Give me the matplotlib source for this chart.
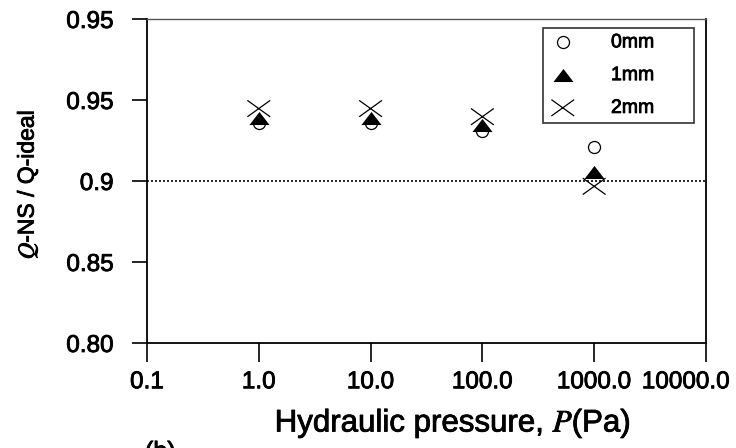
import numpy as np
import matplotlib
matplotlib.use('Agg')
import matplotlib.pyplot as plt
import matplotlib.patheffects as pe
from matplotlib.path import Path
from matplotlib.transforms import ScaledTranslation

plt.rcParams['font.family'] = ['Liberation Sans', 'DejaVu Sans']
plt.rcParams['mathtext.fontset'] = 'stix'

# data
pressure = [1.0, 10.0, 100.0, 1000.0]
q_0mm = [0.936, 0.936, 0.931, 0.921]
q_1mm = [0.939, 0.939, 0.935, 0.906]
q_2mm = [0.945, 0.945, 0.940, 0.897]

x_ticks = [0.1, 1.0, 10.0, 100.0, 1000.0, 10000.0]
x_labels = ['0.1', '1.0', '10.0', '100.0', '1000.0', '10000.0']
y_ticks = [0.80, 0.85, 0.90, 0.95, 1.00]
y_labels = ['0.80', '0.85', '0.9', '0.95', '0.95']

# flat triangle and flat cross like the original
tri = Path([(-1, -0.65), (1, -0.65), (0, 0.65), (-1, -0.65)],
           [Path.MOVETO, Path.LINETO, Path.LINETO, Path.CLOSEPOLY])
cross = Path([(-1, -0.72), (1, 0.72), (-1, 0.72), (1, -0.72)],
             [Path.MOVETO, Path.LINETO, Path.MOVETO, Path.LINETO])

thick = [pe.withStroke(linewidth=0.6, foreground='black')]

fig = plt.figure(figsize=(7.36, 4.48), dpi=100)
ax = fig.add_axes([0.1997, 0.2333, 0.7595, 0.7232])

ax.scatter(pressure, q_0mm, marker='o', s=75, facecolors='white',
           edgecolors='black', linewidths=0.9, label='0mm', zorder=3)
ax.scatter(pressure, q_1mm, marker=tri, s=210, color='black',
           linewidths=0, label='1mm', zorder=4)
ax.scatter(pressure, q_2mm, marker=cross, s=270, facecolors='none',
           edgecolors='black', linewidths=0.9, label='2mm', zorder=5)

# reference line
ax.axhline(0.9, color='black', linestyle=(0, (1.2, 1.2)), linewidth=1.2, zorder=1)

ax.set_xscale('log')
ax.set_xlim(0.1, 10000.0)
ax.set_ylim(0.80, 1.00)
ax.set_xticks(x_ticks)
ax.set_xticklabels(x_labels)
ax.xaxis.set_minor_locator(matplotlib.ticker.NullLocator())
ax.set_yticks(y_ticks)
ax.set_yticklabels(y_labels)

ax.tick_params(axis='x', direction='out', length=14, width=1.2, labelsize=17.5, pad=6)
ax.tick_params(axis='y', direction='out', length=11, width=1.2, labelsize=17.5, pad=13)
for lbl in ax.get_xticklabels() + ax.get_yticklabels():
    lbl.set_path_effects(thick)
# last label is pushed left so it fits
last = ax.get_xticklabels()[-1]
last.set_transform(last.get_transform() + ScaledTranslation(-0.2, 0, fig.dpi_scale_trans))

for side in ['left', 'bottom', 'right']:
    ax.spines[side].set_linewidth(1.3)
ax.spines['top'].set_linewidth(1.0)
ax.spines['top'].set_color('#555555')

ax.set_xlabel('Hydraulic pressure, $P$(Pa)', fontsize=22.5, path_effects=thick)
ax.xaxis.set_label_coords(0.547, -0.195)
ax.set_ylabel('$Q$-NS / Q-ideal', fontsize=16.5, path_effects=thick)
ax.yaxis.set_label_coords(-0.19, 0.49)

leg = ax.legend(loc='upper left', bbox_to_anchor=(0.708, 0.5, 0.270, 0.474),
                mode='expand', fontsize=14,
                frameon=True, fancybox=False, edgecolor='black',
                borderpad=0.3, labelspacing=0.78, handletextpad=1.75,
                handlelength=1.46, borderaxespad=0.0)
leg.get_frame().set_linewidth(1.2)
for t in leg.get_texts():
    t.set_path_effects(thick)

fig.text(0.197, 1 - 440 / 448, '(b)', fontsize=18, va='top', ha='left',
         path_effects=thick)

fig.savefig('out.png', dpi=100)
